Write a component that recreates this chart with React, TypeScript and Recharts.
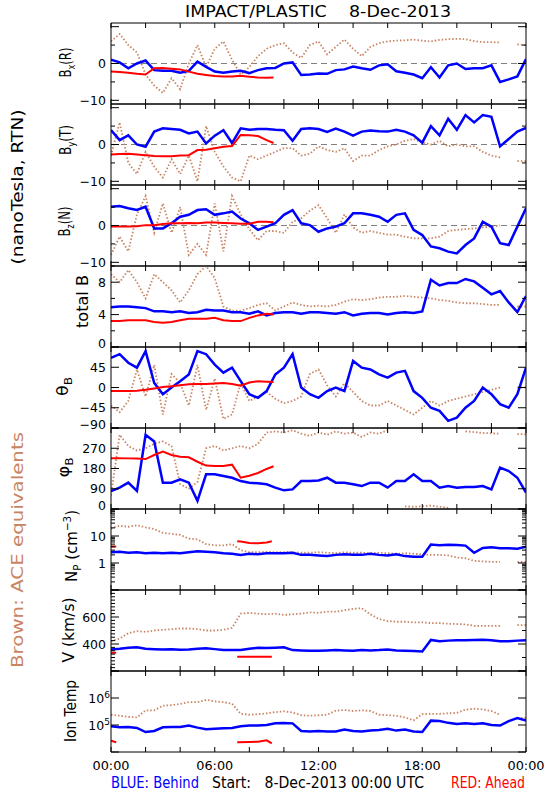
import React from "react";
import { ComposedChart, Line, XAxis, YAxis, ReferenceLine } from "recharts";

const BLUE = "#0000ff";
const RED = "#ff0000";
const BROWN = "#c98463";
const FONT = "'DejaVu Sans', sans-serif";

const PLOT_LEFT = 111;
const PLOT_RIGHT = 526;
const PLOT_TOP = 23;
const PANEL_H = 81;

// time axis, hours of 8-Dec-2013
const HOURS = [0, 0.5, 1, 1.5, 2, 2.5, 3, 3.5, 4, 4.5, 5, 5.5, 6, 6.5, 7, 7.5, 8, 8.5, 9, 9.5, 10, 10.5, 11, 11.5, 12, 12.5, 13, 13.5, 14, 14.5, 15, 15.5, 16, 16.5, 17, 17.5, 18, 18.5, 19, 19.5, 20, 20.5, 21, 21.5, 22, 22.5, 23, 23.5, 24];
const RED_HOURS = [0, 0.5, 1, 1.5, 2, 2.5, 3, 3.5, 4, 4.5, 5, 5.5, 6, 6.5, 7, 7.5, 8, 8.5, 9, 9.4];
const X_TICKS = [0, 2, 4, 6, 8, 10, 12, 14, 16, 18, 20, 22, 24];
const X_LABELS: Record<number, string> = { 0: "00:00", 6: "06:00", 12: "12:00", 18: "18:00", 24: "00:00" };

// Bx (R)
const BX_BLUE = [1.0, 0.3, -1.3, 0, 0.8, -1.8, -2.0, -2.0, -2.5, -2.0, 0.5, -0.9, -2.2, -2.5, -2.2, -2.0, -2.6, -1.8, -1.3, -1.2, 0, 0.3, -3.1, -3.0, -2.7, -2.8, -1.8, -1.6, -0.8, -1.3, -1.7, -0.5, -0.2, -2.1, -2.5, -3.0, -4.0, -1.0, -3.8, -0.5, 0, -1.5, -1.3, -1.3, -0.5, -5.0, -4.3, -3.5, 1.2];
const BX_ACE = [6, 8, 5, 3, -3, -6, -8, -4, -7, 0, 5, -1, 4, 6, 1, -3, -1, 2, 4, 5, 5.5, 3, 1.5, 5, 6, 2.5, 4.5, 6.5, 4, 2, 4.5, 5.5, 6, 6.2, 6.3, 6.5, 6.2, 6, 6.4, 6.6, 6.7, 6.6, 6.1, 5.8, 5.8, 5.7, null, 5.2, 5];
const BX_RED = [-2.2, -2.3, -2.5, -2.8, -3.0, -1.3, -1.2, -1.4, -1.6, -2.2, -2.8, -3.1, -3.4, -3.5, -3.5, -3.3, -3.6, -3.8, -3.9, -3.8];

// By (T)
const BY_BLUE = [3.9, 1.2, 2.5, 0, -0.6, 3.5, 4.4, 4.2, 4.0, 3.0, 3.5, 0.3, 2.4, 3.9, 0.4, 4.4, 4.0, 4.2, 4.2, 4.0, 3.9, 1.0, 4.2, 4.4, 4.2, 3.4, 4.3, 3.5, 2.4, 3.5, 3.8, 3.6, 3.5, 4.0, 3.5, 2.5, 0.5, 5.0, 2.5, 7.0, 4.0, 8.0, 6.0, 8.0, 7.5, -0.5, 1.5, 3.5, 4.5];
const BY_ACE = [-3, 6, -5, -8, -2, -6, -9, -4, -8, -3, -10, 5, -2, -6, -9, -10, -3, -4, -3, -2, -1, -1, -3, -2.5, -0.5, -1.5, -2, -1, -4.5, -3, -3, -1.5, -0.5, 0, 1, 1.5, 0.5, 0, 1, -0.5, 0, -0.5, -0.5, -2, -3, -3.5, null, -4.5, -4.5];
const BY_RED = [-2.7, -2.6, -2.5, -2.7, -2.9, -3.1, -3.2, -3.2, -3.0, -2.9, -1.5, -1.4, -1.0, -0.6, -0.4, 2.6, 2.5, 2.3, 1.2, 0.4];

// Bz (N)
const BZ_BLUE = [5.1, 5.3, 4.7, 4.2, 5.1, -0.8, -0.8, 0.6, 2.4, 2.9, 4.2, 4.4, 2.9, 3.3, 3.8, 1.9, 0.6, -1.2, -0.3, 0.6, 2.9, 4.2, 0.6, 0.1, -1.7, -0.8, -0.3, 0.6, 3.3, 3.3, 2.9, 2.4, 1.0, 2.9, 3.3, -1.2, -2.6, -5.7, -6.2, -7.1, -7.6, -5.3, -3.5, 1.0, -0.3, -4.8, -5.3, -0.3, 4.7];
const BZ_ACE = [-8, -3, -7, 3, 8, -2, 6, -2, 5, -8, -5, -8, 6, -7, 8, 3, -1, -4, -1.5, -1.5, -2, 1, 2, 4, 5.5, 2, -2, 3, -0.5, -2, -1.5, -2, -2.5, -2.5, -3, -3.5, -3.5, -3.5, -3, -1.5, -1.2, -1, -0.8, -0.5, -0.3, 0, null, 0.1, 0.2];
const BZ_RED = [-0.3, -0.3, -0.3, -0.2, 0.1, 0.1, 0.4, 0.6, 0.6, 0.7, 0.6, 0.8, 0.8, 0.7, 0.6, 0.5, 0.5, 1.0, 1.0, 0.9];

// total B
const BT_BLUE = [4.9, 5.0, 5.0, 4.9, 4.8, 4.4, 4.4, 4.3, 4.4, 4.2, 4.3, 4.6, 4.5, 4.5, 4.3, 4.3, 4.1, 4.4, 3.9, 4.2, 4.3, 4.3, 4.1, 4.3, 4.3, 4.2, 4.1, 4.3, 3.9, 4.1, 4.2, 4.2, 4.0, 4.2, 4.3, 4.2, 4.4, 8.3, 7.6, 7.9, 7.9, 8.4, 8.1, 7.3, 6.5, 6.9, 5.5, 4.3, 6.3];
const BT_ACE = [9, 8, 9.5, 8, 6, 9, 8, 7, 5.5, 7, 9, 10, 8.5, 5, 4.5, 4.5, 4.8, 5.2, 5.4, 4.5, 5.0, 5.5, 5.2, 5.0, 5.1, 5.0, 5.2, 5.6, 5.9, 5.8, 5.9, 6.1, 6.2, 6.2, 6.3, 6.2, 6.1, 6.0, 5.8, 5.7, 5.5, 5.4, 5.4, 5.3, 5.2, 5.2, null, 5.0, 5.0];
const BT_RED = [3.2, 3.2, 3.3, 3.3, 3.3, 3.1, 3.0, 3.1, 3.3, 3.5, 3.5, 3.5, 3.6, 3.3, 3.2, 3.2, 3.6, 3.9, 4.1, 4.0];

// theta B
const TH_BLUE = [66, 74, 55, 44, 81, 10, -15, 0, 14, 29, 81, 74, 51, 33, 44, 14, -15, -23, -8, 29, 44, 74, 0, -15, -23, -8, 0, -8, 59, 44, 40, 29, 22, 33, 37, -8, -23, -45, -52, -74, -67, -45, -30, 0, -15, -37, -45, -15, 44];
const TH_ACE = [-40, -55, -30, 40, -20, 50, -60, 30, 10, -40, 50, -50, 20, -70, -60, 10, -30, -20, -10, -25, -35, -30, -20, 30, 40, 5, -20, 10, -10, -30, -40, -40, -30, -40, -50, -60, -45, -30, -40, -30, -25, -20, -15, -10, -5, 0, null, 0, 0];
const TH_RED = [-8, -8, -8, -7, -5, -2, 1, 3, 5, 7, 8, 8, 9, 10, 8, 4, 11, 14, 13, 12];

// phi B
const PH_BLUE = [80, 95, 117, 80, 330, 300, 117, 117, 132, 117, 36, 154, 154, 147, 139, 124, 117, 114, 110, 95, 83, 87, 124, 124, 127, 139, 117, 117, 110, 102, 117, 117, 95, 124, 124, 154, 124, 124, 95, 102, 95, 98, 98, 102, 87, 184, 169, 139, 73];
const PH_ACE = [60, 330, 280, 260, 270, 290, 300, 280, 110, 90, 120, 270, 280, 260, 270, 280, 270, 290, 340, 345, 340, 350, 335, 325, 340, 330, 345, 335, 340, 320, 340, 335, 350, null, 12, 10, 12, 15, 10, 5, null, 345, 342, 338, 336, 335, null, 333, 332];
const PH_RED = [225, 226, 225, 224, 222, 240, 255, 240, 232, 230, 210, 193, 191, 191, 197, 139, 148, 160, 178, 190];

// proton density
const NP_BLUE = [2.5, 2.6, 2.4, 2.5, 2.3, 2.4, 2.3, 2.4, 2.3, 2.5, 2.7, 2.6, 2.5, 2.3, 2.2, 2.0, 2.2, 2.1, 2.3, 2.3, 2.3, 2.4, 2.0, 2.0, 1.9, 1.8, 2.0, 2.1, 2.0, 2.0, 2.2, 2.0, 1.9, 2.1, 1.8, 1.7, 1.7, 4.8, 4.5, 4.7, 4.6, 4.4, 2.4, 3.6, 3.8, 3.5, 3.5, 3.4, 4.0];
const NP_ACE = [19, 24, 22, 25, 21, 18, 13, 12, 11, 8, 7.5, 5, 4.5, 4.5, 5, 3, 2.5, 2.5, 2.6, 2.5, 2.5, 2.5, 2.4, 2.4, 2.5, 2.4, 2.3, 2.5, 2.4, 2.4, 2.3, 2.4, 2.3, 2.2, 2.3, 2.2, 2.1, 2.0, 2.0, 1.9, 1.6, 1.5, 1.2, 1.15, 1.1, 1.1, null, 1.1, 1.1];
const NP_RED_HOURS = [0, 0.3, 1, 7.3, 7.5, 8, 8.5, 9, 9.3];
const NP_RED = [4.1, 4.1, null, 6.4, 6.2, 5.5, 5.4, 5.8, 6.4];

// bulk speed
const V_BLUE = [360, 365, 372, 375, 365, 362, 360, 362, 358, 360, 365, 368, 362, 355, 355, 355, 365, 372, 370, 372, 375, 355, 352, 350, 350, 352, 355, 352, 350, 355, 352, 355, 360, 352, 350, 348, 345, 430, 420, 425, 428, 428, 430, 432, 428, 420, 420, 425, 428];
const V_ACE = [420, 440, 480, 495, 490, 500, 505, 510, 515, 515, 510, 500, 500, 505, 520, 625, 630, 625, 620, 625, 615, 620, 625, 635, 630, 640, 640, 650, 660, 665, 620, 585, 570, 565, 565, 560, 560, 555, 555, 550, 548, 545, 535, 535, 535, 535, null, 540, 540];
const V_RED_HOURS = [0, 0.3, 1, 7.3, 9.3];
const V_RED = [335, 335, null, 305, 305];

// ion temperature
const T_BLUE = [90000, 82000, 85000, 78000, 55000, 60000, 82000, 85000, 85000, 95000, 80000, 70000, 72000, 75000, 78000, 90000, 95000, 95000, 100000, 115000, 118000, 115000, 60000, 58000, 60000, 58000, 58000, 68000, 60000, 58000, 62000, 65000, 72000, 62000, 68000, 58000, 55000, 145000, 140000, 120000, 110000, 115000, 110000, 115000, 100000, 95000, 140000, 180000, 145000];
const T_ACE = [240000, 220000, 200000, 190000, 350000, 350000, 520000, 540000, 600000, 700000, 700000, 850000, 750000, 700000, 620000, 260000, 240000, 250000, 270000, 300000, 320000, 290000, 230000, 220000, 230000, 240000, 340000, 360000, 330000, 350000, 330000, 240000, 230000, 220000, 190000, 150000, 250000, 260000, 260000, 270000, 280000, 370000, 400000, 380000, 330000, 240000, null, 180000, 185000];
const T_RED_HOURS = [0, 0.3, 1, 7.3, 8, 8.5, 9, 9.3];
const T_RED = [26000, 23000, null, 23000, 23500, 24000, 27000, 21000];

// tick values
const B_TICKS = [-10, -5, 0, 5, 10];
const BT_TICKS = [0, 2, 4, 6, 8, 10];
const TH_TICKS = [-90, -45, 0, 45, 90];
const PH_TICKS = [0, 90, 180, 270, 360];
const NP_TICKS = [0.1, 0.2, 0.3, 0.4, 0.5, 0.6, 0.7, 0.8, 0.9, 1, 2, 3, 4, 5, 6, 7, 8, 9, 10, 20, 30, 40, 50, 60, 70, 80, 90, 100];
const V_TICKS = [200, 225, 250, 275, 300, 325, 350, 375, 400, 425, 450, 475, 500, 525, 550, 575, 600, 625, 650, 675, 700, 725, 750, 775, 800];
const V_TICKS_RIGHT = [200, 300, 400, 500, 600, 700, 800];
const T_TICKS = [10000, 100000, 1000000, 10000000];

type Panel = {
  blue: (number | null)[];
  ace: (number | null)[];
  red: (number | null)[];
  redHours: number[];
  domain: [number, number];
  scale: "linear" | "log";
  ticks: number[];
  ticksRight?: number[];
  major: number[];
  labels: Record<string, string>;
  zero?: boolean;
};

const PANELS: Panel[] = [
  { blue: BX_BLUE, ace: BX_ACE, red: BX_RED, redHours: RED_HOURS, domain: [-11, 11], scale: "linear", ticks: B_TICKS, major: [-10, 0, 10], labels: { "-10": "\u221210", "0": "0" }, zero: true },
  { blue: BY_BLUE, ace: BY_ACE, red: BY_RED, redHours: RED_HOURS, domain: [-11, 11], scale: "linear", ticks: B_TICKS, major: [-10, 0, 10], labels: { "-10": "\u221210", "0": "0" }, zero: true },
  { blue: BZ_BLUE, ace: BZ_ACE, red: BZ_RED, redHours: RED_HOURS, domain: [-11, 11], scale: "linear", ticks: B_TICKS, major: [-10, 0, 10], labels: { "-10": "\u221210", "0": "0" }, zero: true },
  { blue: BT_BLUE, ace: BT_ACE, red: BT_RED, redHours: RED_HOURS, domain: [0, 10], scale: "linear", ticks: BT_TICKS, major: [0, 4, 8], labels: { "0": "0", "4": "4", "8": "8" } },
  { blue: TH_BLUE, ace: TH_ACE, red: TH_RED, redHours: RED_HOURS, domain: [-90, 90], scale: "linear", ticks: TH_TICKS, major: TH_TICKS, labels: { "-90": "\u221290", "-45": "\u221245", "0": "0", "45": "45" } },
  { blue: PH_BLUE, ace: PH_ACE, red: PH_RED, redHours: RED_HOURS, domain: [0, 360], scale: "linear", ticks: PH_TICKS, major: PH_TICKS, labels: { "0": "0", "90": "90", "180": "180", "270": "270" } },
  { blue: NP_BLUE, ace: NP_ACE, red: NP_RED, redHours: NP_RED_HOURS, domain: [0.1, 100], scale: "log", ticks: NP_TICKS, major: [0.1, 1, 10, 100], labels: { "1": "1", "10": "10" } },
  { blue: V_BLUE, ace: V_ACE, red: V_RED, redHours: V_RED_HOURS, domain: [200, 800], scale: "linear", ticks: V_TICKS, ticksRight: V_TICKS_RIGHT, major: [200, 400, 600, 800], labels: { "400": "400", "600": "600" } },
  { blue: T_BLUE, ace: T_ACE, red: T_RED, redHours: T_RED_HOURS, domain: [10000, 10000000], scale: "log", ticks: T_TICKS, major: T_TICKS, labels: { "100000": "10^5", "1000000": "10^6" } },
];

function TickLabel({ x, y, text }: { x: number; y: number; text: string }) {
  const [base, sup] = text.split("^");
  return (
    <text x={x + (sup ? 4 : 0)} y={y} dy="0.36em" textAnchor="end" fontSize={12.5} fontFamily={FONT} fill="#000">
      {base}
      {sup && (
        <tspan dy={-5} fontSize={9}>
          {sup}
        </tspan>
      )}
    </text>
  );
}

function leftTick(p: Panel) {
  return (props: any) => {
    const v = props.payload.value;
    const len = p.major.includes(v) ? 8 : 4;
    const label = p.labels[String(v)];
    // labels sitting on the lower frame are lifted, like the original
    const lift = v === p.domain[0] ? -4 : 0;
    return (
      <g>
        <line x1={props.x} x2={props.x + len} y1={props.y} y2={props.y} stroke="#000" />
        {label && <TickLabel x={props.x - 5} y={props.y + lift} text={label} />}
      </g>
    );
  };
}

function rightTick(p: Panel) {
  return (props: any) => {
    const v = props.payload.value;
    const len = p.major.includes(v) ? 8 : 4;
    return <line x1={props.x} x2={props.x - len} y1={props.y} y2={props.y} stroke="#000" />;
  };
}

function bottomTick(withLabels: boolean) {
  return (props: any) => {
    const v = props.payload.value;
    const label = withLabels ? X_LABELS[v] : undefined;
    return (
      <g>
        <line x1={props.x} x2={props.x} y1={props.y} y2={props.y - 5} stroke="#000" />
        {label && (
          <text x={props.x} y={props.y + 18} textAnchor="middle" fontSize={12.5} fontFamily={FONT} fill="#000" textLength={37} lengthAdjust="spacingAndGlyphs">
            {label}
          </text>
        )}
      </g>
    );
  };
}

const topTick = (props: any) => (
  <line x1={props.x} x2={props.x} y1={props.y} y2={props.y + 5} stroke="#000" />
);

function PanelChart({ p, index, last }: { p: Panel; index: number; last: boolean }) {
  const rows = HOURS.map((h, i) => ({ h, blue: p.blue[i], ace: p.ace[i] }));
  const redRows = p.redHours.map((h, i) => ({ h, red: p.red[i] }));
  const bottomH = last ? 30 : 1;
  // spare room under each panel so the lowest tick label is not cut by the svg edge
  const spare = last ? 0 : 10;
  const top = PLOT_TOP + index * PANEL_H - 1;
  return (
    <div style={{ position: "absolute", left: 0, top }}>
      <ComposedChart
        width={550}
        height={PANEL_H + 1 + bottomH + spare}
        data={rows}
        margin={{ top: 0, right: 550 - PLOT_RIGHT - 1, bottom: spare, left: 0 }}
      >
        <XAxis
          dataKey="h"
          type="number"
          domain={[0, 24]}
          ticks={X_TICKS}
          interval={0}
          height={bottomH}
          tickSize={0}
          tickMargin={0}
          tickLine={false}
          axisLine={{ stroke: "#000" }}
          tick={bottomTick(last)}
          allowDataOverflow
        />
        <XAxis
          xAxisId="top"
          orientation="top"
          dataKey="h"
          type="number"
          domain={[0, 24]}
          ticks={X_TICKS}
          interval={0}
          height={1}
          tickSize={0}
          tickMargin={0}
          tickLine={false}
          axisLine={{ stroke: "#000" }}
          tick={topTick}
          allowDataOverflow
        />
        <YAxis
          type="number"
          scale={p.scale}
          domain={p.domain}
          ticks={p.ticks}
          interval={0}
          width={PLOT_LEFT}
          tickSize={0}
          tickMargin={0}
          tickLine={false}
          axisLine={{ stroke: "#000" }}
          tick={leftTick(p)}
          allowDataOverflow
        />
        <YAxis
          yAxisId="right"
          orientation="right"
          type="number"
          scale={p.scale}
          domain={p.domain}
          ticks={p.ticksRight ?? p.ticks}
          interval={0}
          width={1}
          tickSize={0}
          tickMargin={0}
          tickLine={false}
          axisLine={{ stroke: "#000" }}
          tick={rightTick(p)}
          allowDataOverflow
        />
        {p.zero && <ReferenceLine y={0} stroke="#808080" strokeDasharray="6 4" />}
        <Line
          dataKey="ace"
          stroke={BROWN}
          strokeWidth={1.8}
          strokeDasharray="1.5 2"
          dot={false}
          isAnimationActive={false}
        />
        <Line dataKey="blue" stroke={BLUE} strokeWidth={2.5} dot={false} isAnimationActive={false} />
        <Line data={redRows} dataKey="red" stroke={RED} strokeWidth={2} dot={false} isAnimationActive={false} />
      </ComposedChart>
    </div>
  );
}

function VLabel({ x, y, len, color = "#000", size = 16, children }: any) {
  return (
    <text
      transform={`translate(${x},${y}) rotate(-90)`}
      textAnchor="middle"
      fontSize={size}
      fontFamily={FONT}
      fill={color}
      textLength={len}
      lengthAdjust="spacingAndGlyphs"
    >
      {children}
    </text>
  );
}

// letter with a subscript, then the rest of the label back on the baseline
function SubLabel({ x, y, len, head, sub, tail }: any) {
  return (
    <VLabel x={x} y={y} len={len}>
      {head}
      <tspan dy={4} fontSize={11}>
        {sub}
      </tspan>
      {tail && <tspan dy={-4}>{tail}</tspan>}
    </VLabel>
  );
}

function Texts() {
  return (
    <svg width={550} height={800} style={{ position: "absolute", left: 0, top: 0 }}>
      <text x={185} y={17} fontSize={15.5} fontFamily={FONT} textLength={266} lengthAdjust="spacingAndGlyphs" style={{ whiteSpace: "pre" }}>
        {"IMPACT/PLASTIC    8-Dec-2013"}
      </text>

      <VLabel x={23} y={187} len={155}>(nanoTesla, RTN)</VLabel>
      <VLabel x={23} y={550} len={236} color={BROWN}>Brown: ACE equivalents</VLabel>

      <SubLabel x={71} y={62.5} len={30} head="B" sub="x" tail="(R)" />
      <SubLabel x={71} y={140} len={30} head="B" sub="y" tail="(T)" />
      <SubLabel x={70} y={221.5} len={30} head="B" sub="z" tail="(N)" />
      <VLabel x={88} y={301.5} len={53}>total B</VLabel>
      <SubLabel x={68} y={386.5} len={19} head="θ" sub="B" />
      <SubLabel x={69} y={467.5} len={20} head="φ" sub="B" />
      <VLabel x={77} y={546} len={72}>
        N
        <tspan dy={4} fontSize={11}>P</tspan>
        <tspan dy={-4}> (cm</tspan>
        <tspan dy={-6} fontSize={11}>−3</tspan>
        <tspan dy={6}>)</tspan>
      </VLabel>
      <VLabel x={74} y={630} len={65}>V (km/s)</VLabel>
      <VLabel x={76} y={711} len={62}>Ion Temp</VLabel>

      <text x={111} y={788} fontSize={15} fontFamily={FONT} fill={BLUE} textLength={88} lengthAdjust="spacingAndGlyphs">
        BLUE: Behind
      </text>
      <text x={212} y={788} fontSize={15} fontFamily={FONT} fill="#000" textLength={212} lengthAdjust="spacingAndGlyphs" style={{ whiteSpace: "pre" }}>
        {"Start:   8-Dec-2013 00:00 UTC"}
      </text>
      <text x={451} y={788} fontSize={15} fontFamily={FONT} fill={RED} textLength={74} lengthAdjust="spacingAndGlyphs">
        RED: Ahead
      </text>
    </svg>
  );
}

export default function App() {
  return (
    <div style={{ position: "absolute", left: 0, top: 0, width: 550, height: 800, background: "#fff" }}>
      <Texts />
      {PANELS.map((p, i) => (
        <PanelChart key={i} p={p} index={i} last={i === PANELS.length - 1} />
      ))}
    </div>
  );
}
